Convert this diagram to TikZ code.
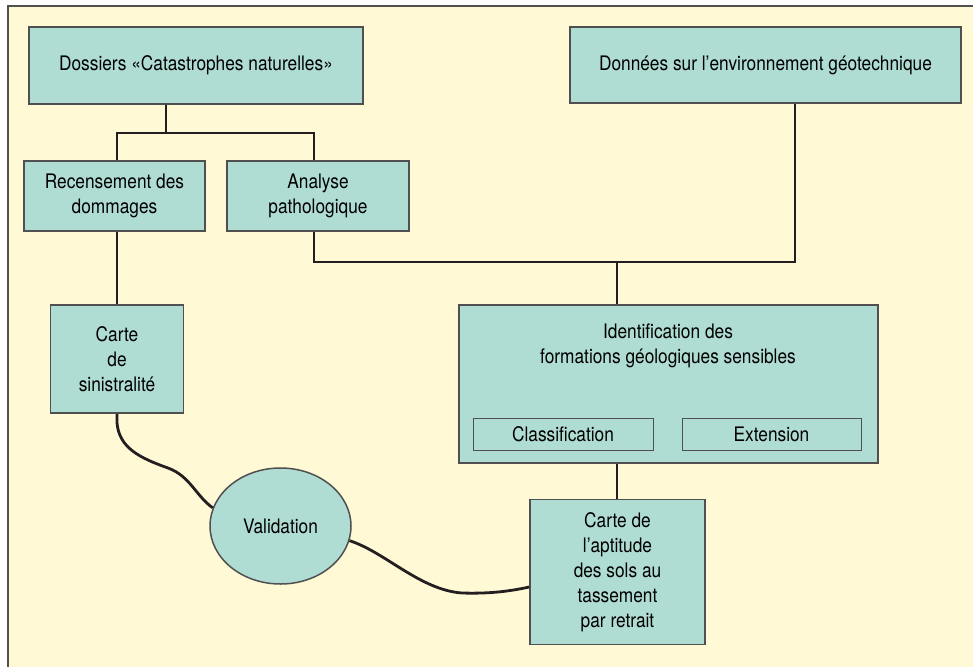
\documentclass[tikz,border=0pt]{standalone}
\usepackage{fontspec}
\setmainfont{TeX Gyre Heros}[FakeStretch=0.865]
\usetikzlibrary{shapes.geometric}
\definecolor{creme}{RGB}{255,249,214}
\definecolor{vert}{RGB}{176,221,211}
\definecolor{trait}{RGB}{35,31,32}
\definecolor{cadre}{RGB}{80,80,80}

\begin{document}
\begin{tikzpicture}[x=1pt,y=-1pt,
    box/.style={draw=cadre, fill=vert, line width=1.5pt, align=center, inner sep=0pt},
    sub/.style={draw=cadre, line width=1pt, inner sep=0pt},
    link/.style={draw=trait, line width=2.8pt}]
  \fontsize{20}{25}\selectfont
  \useasboundingbox (0,0) rectangle (973,666);
  \fill[white] (0,0) rectangle (973,666);
  \draw[cadre, line width=1.5pt, fill=creme] (8,6) rectangle (990,690);

  \node[box, minimum width=334pt, minimum height=77pt] (dos) at (196,65.5) {Dossiers «Catastrophes naturelles»};
  \node[box, minimum width=391pt, minimum height=76pt] (geo) at (765.5,65) {Données sur l’environnement géotechnique};
  \node[box, minimum width=181pt, minimum height=70pt] (rec) at (114.5,196) {Recensement des\\dommages};
  \node[box, minimum width=182pt, minimum height=70pt] (ana) at (318,196) {Analyse\\pathologique};
  \node[box, minimum width=133pt, minimum height=108pt] (sin) at (117,359) {Carte\\de\\sinistralité};
  \node[box, minimum width=419pt, minimum height=158pt] (id) at (668.5,384) {};
  \node[align=center] (idtxt) at (668,346) {Identification des\\formations géologiques sensibles};
  \node[sub, minimum width=180pt, minimum height=32pt] (cl) at (563,434) {Classification};
  \node[sub, minimum width=179pt, minimum height=32pt] (ext) at (771.5,434) {Extension};
  \node[box, ellipse, minimum width=141pt, minimum height=116pt] (val) at (280.5,526) {Validation};
  \node[box, minimum width=175pt, minimum height=145pt] (apt) at (617.5,572) {Carte de\\l’aptitude\\des sols au\\tassement\\par retrait};

  \coordinate (haut) at (166,133);
  \coordinate (bus) at (617,262);
  \draw[link] (dos.south -| haut) -- (haut);
  \draw[link] (rec.north -| sin.north) |- (haut) -| ([xshift=-4pt]ana.north);
  \draw[link] (rec.south -| sin.north) -- (sin.north);
  \draw[link] ([xshift=-4pt]ana.south) |- (bus) -| ([xshift=29.5pt]geo.south);
  \draw[link] (bus) -- (id.north -| bus);
  \draw[link] (id.south -| bus) -- (apt.north -| bus);
  \draw[link] (sin.south) -- ++(0,9) .. controls (119,448) and (140,458) .. (168,468) .. controls (190,476) and (196,496) .. (val.165);
  \draw[link] (val.-12) .. controls (385,552) and (420,590) .. (462,593) .. controls (495,594) and (515,590) .. ([yshift=-15pt]apt.west);
\end{tikzpicture}
\end{document}
